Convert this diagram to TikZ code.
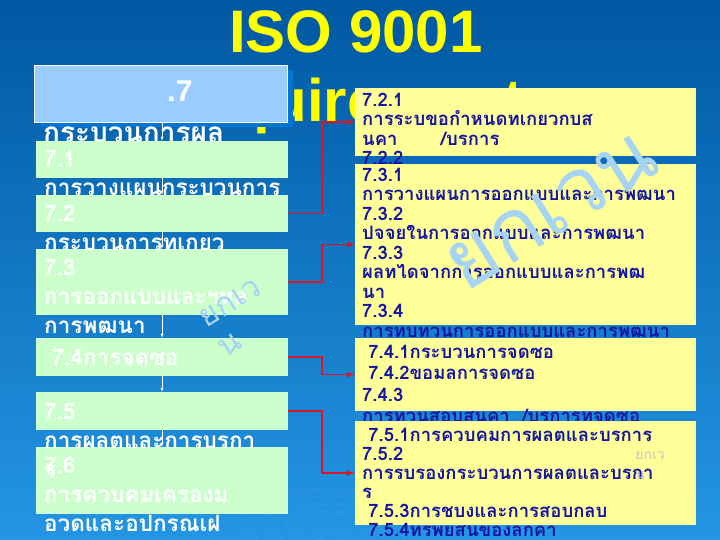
\documentclass[tikz,border=0pt]{standalone}
\usepackage{fontspec}
\setmainfont{Liberation Sans}
\newfontfamily\thai[Script=Thai]{Loma}
\usepackage{tikz}
\usetikzlibrary{%
  arrows,%
  shadows% wg. drop shadow
}

\definecolor{BgTop}{RGB}{0,88,162}
\definecolor{BgBottom}{RGB}{36,150,228}
\definecolor{TitleYellow}{RGB}{255,255,0}
\definecolor{TitleBlue}{RGB}{153,204,255}
\definecolor{ShadowBlue}{RGB}{0,118,210}
\definecolor{LeftGreen}{RGB}{204,255,204}
\definecolor{RightYellow}{RGB}{255,255,153}
\definecolor{Navy}{RGB}{20,20,165}
\definecolor{ArrowRed}{RGB}{220,20,40}
\definecolor{MarkBlue}{RGB}{166,212,242}

\begin{document}
\begin{tikzpicture}[x=1pt,y=-1pt]
  \tikzset{
    TitleText/.style = {inner sep=0, text=TitleYellow,
      font=\bfseries\fontsize{60}{60}\selectfont},
    TitleBox/.style = {fill=TitleBlue, draw=white, line width=0.6pt,
      minimum width=253, minimum height=57,
      drop shadow={shadow xshift=6pt, shadow yshift=-5pt,
        fill=ShadowBlue, opacity=1}},
    LeftBox/.style = {fill=LeftGreen, minimum width=252, inner sep=0},
    RightBox/.style = {fill=RightYellow, minimum width=341, inner sep=0},
    LeftText/.style = {anchor=north west, inner sep=0, align=left, text=white,
      font=\thai\bfseries\fontsize{22.5}{29}\selectfont},
    RightText/.style = {anchor=north west, inner sep=0, align=left, text=Navy,
      font=\thai\bfseries\fontsize{18.5}{19.5}\selectfont},
    MarkText/.style = {inner sep=0, align=left, text=MarkBlue}
  }
  \shade[top color=BgTop, bottom color=BgBottom] (0,0) rectangle (720,540);
  \useasboundingbox (0,0) rectangle (720,540);
  \foreach \r in {25,45,65,85}
    \draw[white, opacity=0.1] (330,522) ellipse ({\r} and {0.4*\r});

  % title
  \node[TitleText, anchor=base] (iso) at (356,53) {ISO 9001};
  \node[TitleText, anchor=base west] (req) at (157,122) {Requirements};
  \node[TitleBox] (s7) at (160.5,93.5) {};
  \node[text=white, font=\bfseries\fontsize{30}{30}\selectfont] (s7t) at (180,91) {.7};
  \node[anchor=base west, inner sep=0, text=white,
    font=\thai\bfseries\fontsize{28}{28}\selectfont] (s7l) at (43,143) {กระบวนการผล};

  % left column
  \node[LeftBox, minimum height=37] (l71) at (162,159.5) {};
  \node[LeftBox, minimum height=37] (l72) at (162,213.5) {};
  \node[LeftBox, minimum height=66] (l73) at (162,282) {};
  \node[LeftBox, minimum height=38] (l74) at (162,357) {};
  \node[LeftBox, minimum height=38] (l75) at (162,411) {};
  \node[LeftBox, minimum height=67] (l76) at (162,480.5) {};

  \tikzset{EdgeStyle/.style = {->, >=latex, white, thin}}
  \draw[EdgeStyle] (s7.south -| l71.north) -- (l71.north);
  \draw[EdgeStyle] (l71) -- (l72);
  \draw[EdgeStyle] (l72) -- (l73);
  \draw[EdgeStyle] (l73) -- (l74);
  \draw[EdgeStyle] (l74) -- (l75);
  \draw[EdgeStyle] (l75) -- (l76);

  \node[LeftText] (l71t) at (44,150) {7.1\\การวางแผนกระบวนการ};
  \node[LeftText] (l72t) at (44,205) {7.2\\กระบวนการทเกยว};
  \node[LeftText] (l73t) at (44,259) {7.3\\การออกแบบและฯหล\\การพฒนา};
  \node[LeftText] (l74t) at (44,349) {\ 7.4การจดซอ};
  \node[LeftText] (l75t) at (44,403) {7.5\\การผลตและการบรกา\\ร};
  \node[LeftText] (l76t) at (44,457) {7.6\\การควบคมเครองม\\อวดและอปกรณเฝ};

  % right column
  \node[RightBox, minimum height=68] (r1) at (525.5,122) {};
  \node[RightText] (r1t) at (362,93) {7.2.1\\การระบขอกำหนดทเกยวกบส\\นคา \qquad /บรการ\\7.2.2};
  \node[RightBox, minimum height=161] (r2) at (525.5,244.5) {};
  \node[RightText] (r2t) at (362,168) {7.3.1\\การวางแผนการออกแบบและการพฒนา\\7.3.2\\ปจจยในการออกแบบและการพฒนา\\7.3.3\\ผลทไดจากการออกแบบและการพฒ\\นา\\7.3.4\\การทบทวนการออกแบบและการพฒนา};
  \node[RightBox, minimum height=73] (r3) at (525.5,374.5) {};
  \node[RightText, font=\thai\bfseries\fontsize{18.5}{21.5}\selectfont] (r3t) at (362,345) {\ 7.4.1กระบวนการจดซอ\\\ 7.4.2ขอมลการจดซอ\\7.4.3\\การทวนสอบสนคา \ /บรการทจดซอ};
  \node[RightBox, minimum height=104] (r4) at (525.5,473) {};
  \node[RightText, font=\thai\bfseries\fontsize{18.5}{19}\selectfont] (r4t) at (362,428) {\ 7.5.1การควบคมการผลตและบรการ\\7.5.2\\การรบรองกระบวนการผลตและบรกา\\ร\\\ 7.5.3การชบงและการสอบกลบ\\\ 7.5.4ทรพยสนของลกคา};

  % links to the sub clauses
  \tikzset{EdgeStyle/.style = {->, >=latex, ArrowRed, line width=1.6pt}}
  \draw[EdgeStyle] (l72.east) -- ++(33.5,0) |- (r1.west);
  \draw[EdgeStyle] (l73.east) -- ++(33.5,0) |- (r2.west);
  \draw[EdgeStyle] (l74.east) -- ++(33.5,0) |- (r3.west);
  \draw[EdgeStyle] (l75.east) -- ++(33.5,0) |- (r4.west);

  % watermarks
  \node[MarkText, rotate=32, font=\thai\fontsize{84}{84}\selectfont] (mk1) at (552,212) {ยกเวน};
  \node[MarkText, rotate=32, font=\thai\fontsize{32}{36}\selectfont] (mk2) at (240,318) {ยกเว\\น};
  \node[MarkText, text=gray!45, font=\thai\fontsize{14}{20}\selectfont] (mk3) at (650,466) {ยกเว\\น};
\end{tikzpicture}
\end{document}
